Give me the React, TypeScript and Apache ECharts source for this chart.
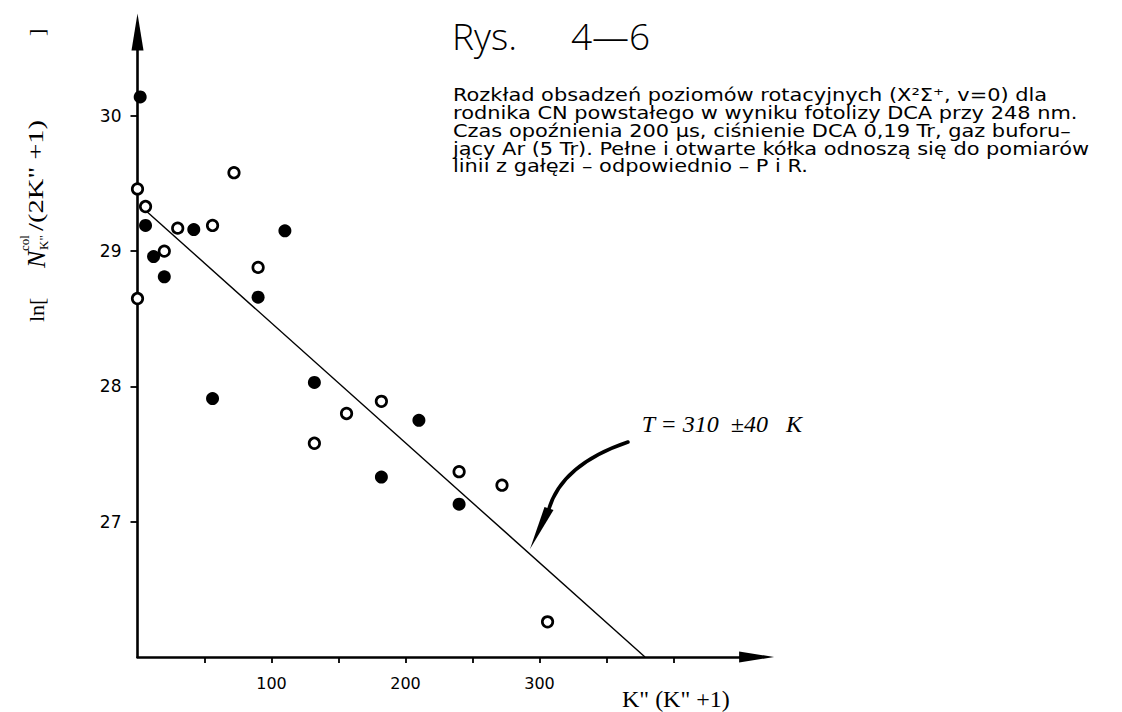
import React, { useEffect, useRef } from "react";
import * as echarts from "echarts";

// P branch (filled circles): x = K"(K"+1), y = ln[N/(2K"+1)]
const pBranchX = [2, 6, 12, 20, 42, 56, 90, 110, 132, 182, 210, 240];
const pBranchY = [30.14, 29.19, 28.96, 28.81, 29.16, 27.91, 28.66, 29.15, 28.03, 27.33, 27.75, 27.13];
// R branch (open circles)
const rBranchX = [0, 0, 6, 20, 30, 56, 72, 90, 132, 156, 182, 240, 272, 306];
const rBranchY = [29.46, 28.65, 29.33, 29.0, 29.17, 29.19, 29.58, 28.88, 27.58, 27.8, 27.89, 27.37, 27.27, 26.26];
// fitted straight line (T = 310 K)
const fitX = [5, 378.7];
const fitY = [29.31, 26.0];
// axes
const xTicks = [50, 100, 150, 200, 250, 300, 350, 400];
const xTickLabels = [100, 200, 300];
const yTicks = [27, 28, 29, 30];
const yTickLabels = [27, 28, 29, 30];

const titleLeft = "Rys.";
const titleRight = "4\u20146";
const descriptionLines = [
  "Rozkład obsadzeń poziomów rotacyjnych (X\u00B2\u03A3\u207A, v=0) dla",
  "rodnika CN powstałego w wyniku fotolizy DCA przy 248 nm.",
  "Czas opoźnienia 200 \u00B5s, ciśnienie DCA 0,19 Tr, gaz buforu\u2013",
  "jący Ar (5 Tr). Pełne i otwarte kółka odnoszą się do pomiarów",
  "linii z gałęzi \u2013 odpowiednio \u2013 P i R.",
];
const annotationText = "T = 310  \u00B140   K";
const xAxisName = 'K" (K" +1)';

export default function App() {
  const ref = useRef<HTMLDivElement>(null);
  useEffect(() => {
    if (!ref.current) return;
    const chart = echarts.init(ref.current, null, { renderer: "svg" });
    const serif = "'Liberation Serif', 'DejaVu Serif', serif";
    const sans = "'DejaVu Sans', 'Liberation Sans', sans-serif";

    const descTexts = descriptionLines.map((line, i) => ({
      type: "text",
      x: 453,
      y: 95 + i * 17.8,
      scaleX: 1.23,
      style: {
        text: line,
        fontFamily: sans,
        fontSize: 17,
        fill: "#000",
        textAlign: "left",
        textVerticalAlign: "middle",
      },
    }));

    const yLabelBase = { fill: "#000", fontFamily: serif, textAlign: "left", textVerticalAlign: "middle" };

    const option: any = {
      animation: false,
      backgroundColor: "#ffffff",
      grid: { left: 137.5, top: 32, right: 365.4, bottom: 55, containLabel: false, outerBoundsMode: "none" },
      xAxis: {
        type: "value",
        min: 0,
        max: 462,
        axisLine: {
          show: true,
          onZero: false,
          symbol: ["none", "triangle"],
          symbolSize: [11, 35],
          lineStyle: { color: "#000", width: 2.6 },
        },
        axisTick: { show: true, inside: false, length: 6, customValues: xTicks, lineStyle: { color: "#000", width: 1.8 } },
        axisLabel: { show: true, customValues: xTickLabels, margin: 18, color: "#000", fontSize: 16, fontFamily: sans },
        splitLine: { show: false },
      },
      yAxis: {
        type: "value",
        min: 26,
        max: 30.62,
        axisLine: {
          show: true,
          onZero: false,
          symbol: ["none", "triangle"],
          symbolSize: [12, 37],
          lineStyle: { color: "#000", width: 2.6 },
        },
        axisTick: { show: true, inside: false, length: 7, customValues: yTicks, lineStyle: { color: "#000", width: 1.8 } },
        axisLabel: { show: true, customValues: yTickLabels, margin: 16, color: "#000", fontSize: 17, fontFamily: sans },
        splitLine: { show: false },
      },
      series: [
        {
          type: "line",
          name: "fit",
          data: fitX.map((x, i) => [x, fitY[i]]),
          symbol: "none",
          lineStyle: { color: "#000", width: 1.4 },
          z: 1,
        },
        {
          type: "scatter",
          name: "P",
          data: pBranchX.map((x, i) => [x, pBranchY[i]]),
          symbol: "circle",
          symbolSize: 13,
          itemStyle: { color: "#000", opacity: 1 },
          z: 3,
        },
        {
          type: "scatter",
          name: "R",
          data: rBranchX.map((x, i) => [x, rBranchY[i]]),
          symbol: "circle",
          symbolSize: 10.5,
          itemStyle: { color: "#fff", borderColor: "#000", borderWidth: 2.7, opacity: 1 },
          z: 3,
        },
      ],
      graphic: [
        {
          type: "text",
          x: 452,
          y: 35,
          style: { text: titleLeft, fontFamily: "'Open Sans', 'Liberation Sans', sans-serif", fontWeight: 300, fontSize: 37, fill: "#000", textAlign: "left", textVerticalAlign: "middle" },
        },
        {
          type: "text",
          x: 571,
          y: 35,
          style: { text: titleRight, fontFamily: "'Open Sans', 'Liberation Sans', sans-serif", fontWeight: 300, fontSize: 37, fill: "#000", textAlign: "left", textVerticalAlign: "middle" },
        },
        ...descTexts,
        {
          type: "text",
          x: 641.7,
          y: 424,
          style: { text: annotationText, fontFamily: serif, fontStyle: "italic", fontSize: 24, fill: "#000", textAlign: "left", textVerticalAlign: "middle" },
        },
        {
          type: "bezierCurve",
          shape: { x1: 628, y1: 442, cpx1: 560, cpy1: 465, x2: 548, y2: 512 },
          style: { stroke: "#000", lineWidth: 3.5, fill: null, lineCap: "round" },
        },
        {
          type: "polygon",
          shape: { points: [[553.5, 510], [544.5, 507], [530, 549]] },
          style: { fill: "#000" },
        },
        {
          type: "text",
          x: 622,
          y: 699,
          style: { text: xAxisName, fontFamily: serif, fontSize: 24, fill: "#000", textAlign: "left", textVerticalAlign: "middle" },
        },
        { type: "text", x: 36, y: 322, rotation: Math.PI / 2, style: { ...yLabelBase, text: "ln[", fontSize: 22 } },
        { type: "text", x: 36, y: 268, rotation: Math.PI / 2, style: { ...yLabelBase, text: "N", fontStyle: "italic", fontSize: 26 } },
        { type: "text", x: 24, y: 251, rotation: Math.PI / 2, style: { ...yLabelBase, text: "col", fontSize: 13 } },
        { type: "text", x: 43, y: 250, rotation: Math.PI / 2, style: { ...yLabelBase, text: 'K"', fontSize: 13 } },
        { type: "text", x: 36, y: 231, rotation: Math.PI / 2, scaleX: 1.3, style: { ...yLabelBase, text: '/(2K" +1)', fontSize: 22 } },
        { type: "text", x: 36, y: 36, rotation: Math.PI / 2, style: { ...yLabelBase, text: "]", fontSize: 22 } },
      ],
    };
    chart.setOption(option);
    return () => chart.dispose();
  }, []);
  return (
    <div
      ref={ref}
      style={{ position: "fixed", left: 0, top: 0, width: "1122px", height: "712px", background: "#fff" }}
    />
  );
}
